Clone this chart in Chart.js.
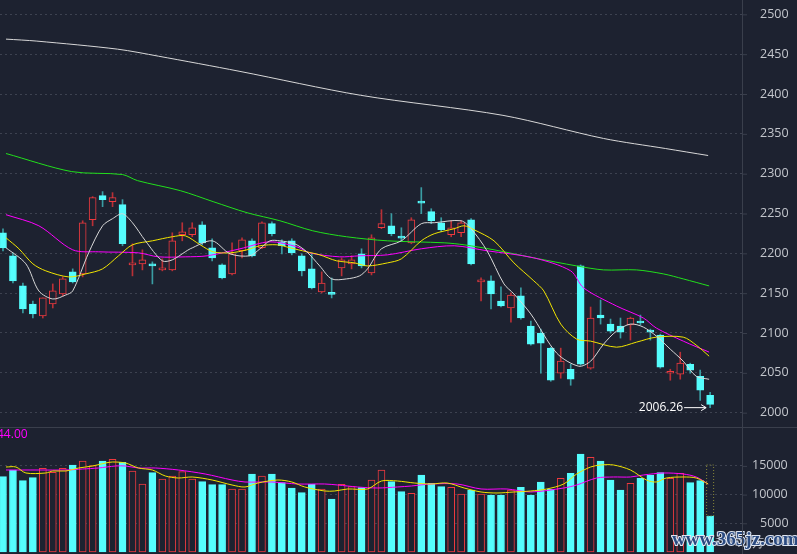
<!DOCTYPE html>
<html><head><meta charset="utf-8">
<script src="https://cdn.jsdelivr.net/npm/chart.js@4.4.1/dist/chart.umd.min.js"></script>
<style>
html,body{margin:0;padding:0;background:#1d2230;overflow:hidden}
#w{position:relative;width:797px;height:554px;background:#1d2230}
#p{position:absolute;left:0;top:0;width:797px;height:427px}
#v{position:absolute;left:0;top:427px;width:797px;height:127px}
</style></head><body>
<div id="w"><div id="p"><canvas id="cp"></canvas></div><div id="v"><canvas id="cv"></canvas></div></div>
<script>
// OHLC per day (index 0..71)
const opens  = [2225.8,2196.9,2159.1,2136.4,2121.3,2136.4,2149.0,2176.7,2174.2,2242.2,2272.4,2264.9,2261.1,2185.5,2186.8,2185.3,2179.2,2179.2,2223.3,2223.3,2235.9,2207.0,2185.5,2174.2,2203.2,2215.7,2207.0,2237.2,2214.5,2215.7,2196.9,2180.5,2151.5,2149.6,2181.7,2186.8,2199.4,2175.5,2232.1,2234.6,2220.1,2213.2,2264.1,2252.3,2238.4,2223.3,2225.8,2242.2,2164.1,2165.4,2140.2,2131.4,2146.5,2108.7,2099.9,2081.0,2049.5,2054.5,2184.2,2055.8,2122.5,2111.2,2108.7,2110.0,2113.1,2103.6,2097.4,2049.5,2048.2,2060.8,2045.7,2021.8];
const closes = [2206.9,2165.4,2130.1,2123.8,2144.0,2152.8,2167.9,2164.1,2238.4,2269.9,2267.4,2269.9,2212.0,2186.5,2191.8,2184.2,2180.5,2215.7,2227.1,2232.1,2213.2,2194.3,2169.1,2199.4,2217.0,2196.9,2238.4,2224.6,2209.5,2200.6,2178.0,2156.6,2162.8,2148.5,2191.8,2191.8,2184.2,2219.5,2237.2,2224.6,2219.0,2242.2,2263.0,2240.9,2229.6,2232.1,2238.4,2186.8,2165.4,2149.0,2133.9,2147.7,2118.8,2086.0,2087.3,2040.7,2064.6,2041.9,2060.8,2118.8,2118.8,2102.4,2101.1,2118.8,2112.5,2101.1,2057.1,2050.5,2062.1,2053.3,2028.1,2010.5];
const highs  = [2230.9,2200.6,2162.8,2140.2,2144.0,2161.6,2170.4,2180.5,2240.9,2271.2,2277.5,2276.2,2267.4,2212.0,2204.4,2189.3,2193.1,2225.8,2238.4,2238.4,2239.7,2218.3,2186.8,2213.2,2219.5,2218.3,2239.7,2239.7,2217.0,2218.3,2199.4,2199.4,2176.7,2169.1,2194.3,2196.9,2205.7,2223.3,2254.8,2249.8,2232.1,2244.7,2282.5,2256.0,2244.7,2240.9,2240.9,2243.5,2169.1,2171.7,2157.8,2150.3,2156.6,2115.0,2104.9,2082.2,2081.0,2060.8,2185.5,2132.6,2141.4,2117.5,2118.8,2120.0,2122.5,2104.9,2098.6,2054.5,2075.9,2062.1,2053.3,2025.6];
const lows   = [2203.1,2162.8,2125.1,2118.8,2118.8,2131.4,2146.5,2162.8,2170.4,2234.6,2258.6,2258.6,2209.5,2171.7,2179.2,2161.6,2178.0,2178.0,2215.7,2220.8,2210.7,2190.6,2167.9,2172.9,2194.3,2195.6,2205.7,2222.0,2199.4,2198.1,2171.7,2155.3,2150.3,2144.0,2171.7,2180.5,2181.7,2172.9,2230.9,2222.0,2215.7,2212.0,2249.8,2237.2,2227.1,2220.8,2220.8,2185.5,2140.2,2130.1,2132.6,2113.7,2117.5,2084.8,2049.5,2039.4,2043.2,2034.4,2059.6,2054.5,2111.2,2099.9,2093.6,2091.1,2110.0,2091.1,2055.8,2040.7,2042.0,2049.5,2015.5,2006.3];
const volumes = [13120,14284,12426,12950,14574,13880,14574,15155,15852,15039,15852,16142,15620,14110,11846,13820,12717,13239,13994,12717,12251,11731,11731,10975,10975,13588,13239,13588,12077,11149,10337,11788,10975,9233,11788,11381,11207,12542,14284,12251,10511,10221,13413,11962,11381,11265,10104,10800,10104,9929,9929,10800,11265,9929,12194,10917,12833,13704,17072,16490,15852,12542,10800,11962,12833,13413,13820,12833,13704,12077,12426,6271];
const volProjected = 15155;
// moving-average lines: [index, value]
const ma5   = [[0.3,2207.0],[2.3,2186.8],[3.6,2152.8],[5,2142.7],[6.3,2147.7],[7,2152.8],[8.6,2200.6],[10,2234.6],[11,2243.5],[12,2249.7],[13,2238.4],[14.3,2215.7],[16,2190.6],[17,2191.8],[18.3,2201.9],[18.8,2205.7],[21,2215.7],[22.8,2199.4],[24.8,2196.9],[25.8,2205.7],[26.8,2215.7],[27.8,2215.7],[29.3,2211.9],[30.5,2201.9],[31.8,2184.2],[33,2167.9],[34.5,2167.9],[35.8,2171.7],[36.6,2180.5],[38,2205.7],[40,2215.7],[42,2237.2],[43.3,2238.4],[46,2240.9],[47,2230.9],[48.6,2203.2],[50.3,2161.6],[51.3,2149.0],[53,2123.8],[55.6,2074.7],[57.8,2058.3],[59,2064.6],[60.3,2086.0],[61.6,2102.4],[63,2111.2],[64.3,2107.4],[65.6,2096.1],[67,2079.7],[68.3,2064.6],[69.6,2045.7],[70.9,2041.9]];
const ma10  = [[0.3,2219.5],[1.6,2205.7],[3,2186.8],[4.3,2178.0],[6.6,2170.4],[8.3,2174.2],[10,2180.5],[11.6,2196.9],[13,2210.7],[15,2215.7],[17,2220.8],[18.3,2222.0],[19.8,2210.7],[21.1,2201.9],[22.8,2200.6],[24.5,2204.4],[25.8,2209.5],[27.5,2210.7],[28.8,2207.0],[30.5,2201.9],[31.8,2198.1],[33.5,2190.6],[35.3,2188.0],[36.6,2184.2],[38.6,2188.0],[40,2193.1],[42,2215.7],[43.3,2224.6],[45.3,2230.9],[46.3,2234.6],[47.3,2229.6],[49.3,2215.7],[51.3,2188.0],[53.3,2165.4],[54.3,2152.8],[56,2111.2],[57.6,2092.3],[59,2089.8],[61.6,2082.2],[63.6,2088.5],[65.6,2094.8],[68.3,2094.8],[69.6,2084.8],[70.9,2070.9]];
const ma20  = [[0.3,2248.5],[3.6,2234.6],[7,2204.4],[9.6,2201.9],[13.6,2200.6],[15.6,2195.6],[18.3,2195.6],[20.5,2196.9],[23.8,2205.7],[26.8,2214.5],[29.5,2208.2],[30.8,2200.6],[33.8,2195.6],[35.8,2196.9],[38.6,2198.1],[42,2205.7],[45.3,2209.5],[48.6,2203.2],[53.3,2194.3],[57,2178.0],[58.3,2156.6],[61.6,2133.9],[64.3,2118.8],[65.6,2106.2],[68.3,2089.8],[70.9,2076.0]];
const ma60  = [[0.3,2325.3],[6.9,2302.6],[12,2298.9],[13.5,2291.3],[17.8,2278.7],[21.1,2264.9],[24.5,2251.0],[27.8,2240.9],[31.1,2228.3],[34.5,2220.8],[38.6,2215.7],[44.3,2213.2],[46.3,2210.7],[49.3,2204.4],[53.3,2194.3],[57.6,2184.2],[60.3,2179.2],[63.6,2179.2],[66.3,2174.2],[68.3,2167.9],[70.9,2159.1]];
const ma120 = [[0.3,2468.9],[3.4,2466.4],[11.5,2456.3],[15.6,2447.5],[23.7,2428.6],[35.9,2398.4],[50.2,2373.2],[60.3,2344.2],[66.5,2331.6],[70.8,2322.8]];
const volMa5  = [[0.3,14807],[1.3,14807],[2.3,13762],[4.3,13762],[5,14110],[6.3,14110],[7.6,14633],[9,14981],[10.3,15504],[11,15678],[12.3,15504],[13.6,14633],[15,14284],[16.3,13239],[17.6,12891],[19,13065],[21,12542],[23,11671],[24.3,11323],[25.6,12020],[27.6,12542],[29,12194],[30.3,11323],[32.3,10626],[33.3,10626],[34.6,10975],[36.6,10975],[38,12368],[39.6,12368],[41.3,12020],[43,11846],[44.6,12020],[46.3,11149],[48,10452],[49.6,10278],[51.3,10452],[53,10626],[54.6,10975],[56.3,11846],[57.6,13588],[59,14807],[60,15155],[61.3,15155],[63,14284],[64.6,12542],[65.6,12194],[66.6,12891],[68.3,13065],[69.6,12891],[70.8,11846]];
const volMa10 = [[0.3,14284],[3.6,14284],[6.3,14284],[8,14458],[9.6,14633],[11.3,14981],[12.3,14981],[13.6,14633],[15.3,14633],[17.6,14284],[20.3,13588],[23,12542],[24.3,12194],[27,12194],[29.6,11846],[32.3,11846],[33.6,11671],[35.6,11323],[37.6,11149],[39.6,11323],[41,11497],[43,11846],[45.6,11846],[48,10975],[50.6,10975],[53,10452],[56.3,11149],[57.6,11671],[59.6,12891],[61.3,13065],[63,13065],[64.3,13413],[66.3,13762],[68.3,13588],[69.6,13065],[70.8,11846]];
const priceTicks = [2000,2050,2100,2150,2200,2250,2300,2350,2400,2450,2500];
const volTicks = [5000,10000,15000];
const lastLabel = '2006.26';

const BG='#1d2230', RED='#ee3a3f', REDW='#b83036', CY='#55fdfd', CYW='#3a9da3';
const up = opens.map((o,i)=>closes[i]>=o);
const xMin=-0.3, xMax=74.2;
const xs = {type:'linear',min:xMin,max:xMax,display:false,offset:false};
const pts = a=>a.map(p=>({x:p[0],y:p[1]}));
const line=(d,c)=>({type:'line',data:pts(d),borderColor:c,borderWidth:1,pointRadius:0,tension:0.3,order:1});
const yAxis=(min,max,ticks)=>({position:'right',min,max,
  afterFit:s=>{s.width=55},
  afterBuildTicks:s=>{s.ticks=ticks.map(v=>({value:v}))},
  grid:{color:'rgba(110,115,130,0.4)',drawTicks:false},
  border:{display:false,dash:[2,3]},
  ticks:{display:false}});

const axisPlugin={id:'ax',afterDraw(c){
  const ctx=c.ctx,y=c.scales.y,a=c.chartArea;
  ctx.save();ctx.strokeStyle='#3a3f4c';ctx.lineWidth=1;
  ctx.beginPath();ctx.moveTo(a.right+0.5,0);ctx.lineTo(a.right+0.5,c.height);ctx.stroke();
  ctx.fillStyle='#c3c6cc';ctx.font='12.5px Open Sans';ctx.textAlign='left';ctx.textBaseline='middle';
  y.ticks.forEach(t=>{const py=y.getPixelForValue(t.value);
    ctx.beginPath();ctx.moveTo(a.right,py+0.5);ctx.lineTo(a.right+5,py+0.5);ctx.stroke();
    ctx.fillText(String(t.value),a.right+(t.value>=10000?10:18),py);});
  ctx.restore();}};

const labelPlugin={id:'lbl',afterDraw(c){
  const ctx=c.ctx,x=c.scales.x,y=c.scales.y;
  const px=x.getPixelForValue(71)-4, py=y.getPixelForValue(lows[71]);
  ctx.save();ctx.strokeStyle='#fff';ctx.fillStyle='#fff';ctx.lineWidth=1;
  ctx.beginPath();ctx.moveTo(px-22,py);ctx.lineTo(px,py);ctx.stroke();
  ctx.beginPath();ctx.moveTo(px,py);ctx.lineTo(px-5,py-3);ctx.moveTo(px,py);ctx.lineTo(px-5,py+3);ctx.stroke();
  ctx.font='12px Open Sans';ctx.textAlign='right';ctx.textBaseline='middle';
  ctx.fillText(lastLabel,px-23,py);ctx.restore();}};

new Chart(document.getElementById('cp'),{
  data:{datasets:[
    {type:'bar',data:highs.map((h,i)=>({x:i,y:[lows[i],h]})),backgroundColor:up.map(u=>u?REDW:CYW),barThickness:1,grouped:false,order:3},
    {type:'bar',data:opens.map((o,i)=>({x:i,y:[Math.min(o,closes[i]),Math.max(o,closes[i])]})),backgroundColor:up.map(u=>u?BG:CY),borderColor:up.map(u=>u?RED:CY),borderWidth:1,borderSkipped:false,barThickness:7,minBarLength:2,grouped:false,order:2},
    line(ma5,'#d8d8d8'),line(ma10,'#f2e500'),line(ma20,'#ff00ff'),line(ma60,'#22e01c'),line(ma120,'#d8d8d8')
  ]},
  options:{responsive:true,maintainAspectRatio:false,animation:false,
    layout:{padding:0},plugins:{legend:{display:false},tooltip:{enabled:false}},
    scales:{x:xs,y:yAxis(1982,2518,priceTicks)}},
  plugins:[labelPlugin,axisPlugin]
});

const volPlugin={id:'vp',afterDraw(c){
  const ctx=c.ctx;ctx.save();
  ctx.strokeStyle='#3a3f4c';ctx.beginPath();ctx.moveTo(0,0.5);ctx.lineTo(797,0.5);ctx.stroke();
  const x=c.scales.x,y=c.scales.y,px=x.getPixelForValue(71);
  ctx.strokeStyle='#8a8a3a';ctx.setLineDash([1,2]);
  ctx.strokeRect(px-3.5,y.getPixelForValue(volProjected),7,y.getPixelForValue(volumes[71])-y.getPixelForValue(volProjected));
  ctx.setLineDash([]);
  ctx.font='12px Open Sans';ctx.fillStyle='#ff00ff';ctx.textBaseline='top';ctx.fillText('44.00',-3,2);
  ctx.fillStyle='#c3c6cc';ctx.fillText('X1万',738,111);
  ctx.font='bold 19px Liberation Serif';ctx.fillStyle='#2a4a80';ctx.strokeStyle='#dfe6f2';ctx.lineWidth=2;
  ctx.textBaseline='alphabetic';
  ctx.strokeText('www.365jz.com',672,118);ctx.fillText('www.365jz.com',672,118);
  ctx.restore();}};

new Chart(document.getElementById('cv'),{
  data:{datasets:[
    {type:'bar',data:volumes.map((v,i)=>({x:i,y:v})),backgroundColor:up.map(u=>u?BG:CY),borderColor:up.map(u=>u?RED:CY),borderWidth:1,borderSkipped:false,barThickness:7,grouped:false,order:2},
    line(volMa5,'#f2e500'),line(volMa10,'#ff00ff')
  ]},
  options:{responsive:true,maintainAspectRatio:false,animation:false,
    layout:{padding:0},plugins:{legend:{display:false},tooltip:{enabled:false}},
    scales:{x:xs,y:yAxis(-350,21775,volTicks)}},
  plugins:[volPlugin,axisPlugin]
});
</script></body></html>
